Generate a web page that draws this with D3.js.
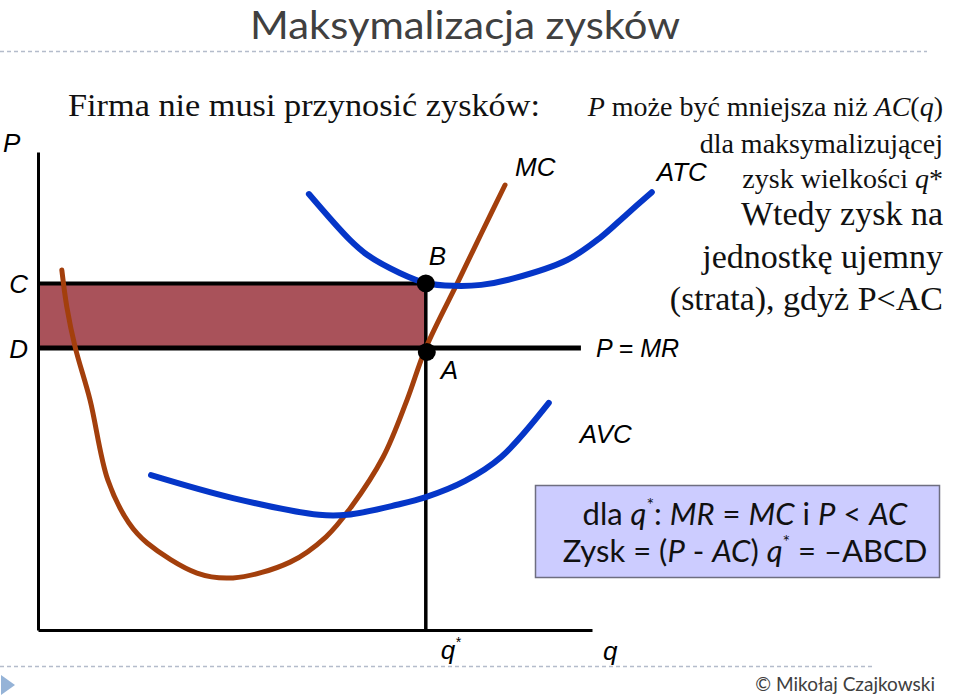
<!DOCTYPE html>
<html>
<head>
<meta charset="utf-8">
<script src="https://cdn.jsdelivr.net/npm/d3@7"></script>
<style>
  html, body { margin: 0; padding: 0; background: #fff; }
  svg { display: block; }
  .sans { font-family: "Liberation Sans", Arial, sans-serif; font-style: italic; }
  .serif { font-family: "Liberation Serif", "Times New Roman", serif; }
  .cal { font-family: Lato, "Open Sans", sans-serif; }
</style>
</head>
<body>
<svg id="chart" width="960" height="697"></svg>
<script>
// ---- data (abstract units: quantity q, cost/price c) ----
const qStar = 7.0;          // profit-maximising quantity
const price = 5.9;          // P = MR  (point D / A)
const avgCost = 7.25;       // ATC at q*  (point C / B)
const mrEnd = 9.8;          // end of the P = MR line

const atcCurve = [
  [4.89, 9.12], [5.63, 8.16], [5.94, 7.85], [6.53, 7.47], [7.0, 7.26],
  [7.5, 7.20], [8.0, 7.22], [8.6, 7.36], [9.55, 7.74], [10.14, 8.20], [10.63, 8.70], [11.08, 9.16]
];
const avcCurve = [
  [2.04, 3.24], [3.52, 2.76], [5.07, 2.41], [5.58, 2.41], [6.48, 2.62],
  [7.0, 2.78], [7.71, 3.12], [8.36, 3.62], [9.22, 4.75]
];
const mcCurve = [
  [0.43, 7.53], [0.52, 6.76], [0.67, 5.92], [0.94, 4.81], [1.26, 3.14],
  [1.64, 2.24], [1.97, 1.82], [2.87, 1.19], [3.52, 1.09], [4.55, 1.42],
  [5.20, 1.95], [5.65, 2.57], [6.23, 3.62], [6.66, 4.81], [7.0, 5.9],
  [7.6, 7.33], [8.0, 8.29], [8.43, 9.31]
];
const yTickValues = [price, avgCost];
const yTickLabels = ["D", "C"];

// ---- layout ----
const svg = d3.select("#chart");
const x = d3.scaleLinear().domain([0, 10]).range([38, 592]);
const y = d3.scaleLinear().domain([0, 10]).range([630, 152]);

// slide decorations
svg.append("line").attr("x1", 0).attr("x2", 927).attr("y1", 51.5).attr("y2", 51.5)
  .attr("stroke", "#b4bccb").attr("stroke-width", 1.3).attr("stroke-dasharray", "4,3");
svg.append("line").attr("x1", 0).attr("x2", 873).attr("y1", 666.5).attr("y2", 666.5)
  .attr("stroke", "#b4bccb").attr("stroke-width", 1.3).attr("stroke-dasharray", "4,3");
svg.append("polygon").attr("points", "1,675 15,685 1,695").attr("fill", "#95b3d7");

svg.append("text").attr("class", "cal").attr("x", 465).attr("y", 39)
  .attr("text-anchor", "middle").attr("font-size", 38).attr("fill", "#404040")
  .attr("textLength", 430).attr("lengthAdjust", "spacingAndGlyphs")
  .text("Maksymalizacja zysków");

svg.append("text").attr("class", "cal").attr("x", 935).attr("y", 691)
  .attr("text-anchor", "end").attr("font-size", 19).attr("fill", "#404040")
  .text("© Mikołaj Czajkowski");

// left heading
svg.append("text").attr("class", "serif").attr("x", 68).attr("y", 116)
  .attr("font-size", 31).attr("fill", "#111")
  .attr("textLength", 472).attr("lengthAdjust", "spacingAndGlyphs")
  .text("Firma nie musi przynosić zysków:");

// right text block
const rt = [
  { y: 116, fs: 28, parts: [["P", true], [" może być mniejsza niż ", false], ["AC", true], ["(", false], ["q", true], [")", false]] },
  { y: 153, fs: 28, parts: [["dla maksymalizującej", false]] },
  { y: 188, fs: 28, parts: [["zysk wielkości ", false], ["q", true], ["*", false]] },
  { y: 225, fs: 34, parts: [["Wtedy zysk na", false]] },
  { y: 268, fs: 34, parts: [["jednostkę ujemny", false]] },
  { y: 310, fs: 34, parts: [["(strata), gdyż P<AC", false]] }
];
rt.forEach(line => {
  const t = svg.append("text").attr("class", "serif").attr("x", 943).attr("y", line.y)
    .attr("text-anchor", "end").attr("font-size", line.fs).attr("fill", "#111");
  line.parts.forEach(p => t.append("tspan").attr("font-style", p[1] ? "italic" : "normal").text(p[0]));
});

// ---- chart ----
const g = svg.append("g");

// loss rectangle
g.append("rect")
  .attr("x", x(0)).attr("y", y(avgCost))
  .attr("width", x(qStar) - x(0)).attr("height", y(price) - y(avgCost))
  .attr("fill", "#a9525a");

// axes
const xAxis = d3.axisBottom(x).tickValues([]).tickSizeOuter(0);
const yAxis = d3.axisLeft(y).tickValues(yTickValues).tickSize(0).tickPadding(10)
  .tickFormat((d, i) => yTickLabels[i]).tickSizeOuter(0);
const gx = g.append("g").attr("transform", `translate(0,${y(0)})`).call(xAxis);
const gy = g.append("g").attr("transform", `translate(${x(0)},0)`).call(yAxis);
[gx, gy].forEach(a => a.select(".domain").attr("stroke", "#000").attr("stroke-width", 3));
gy.selectAll(".tick text").attr("class", "sans").attr("font-size", 26).attr("fill", "#000")
  .attr("dy", "0.36em");

// guide lines
g.append("line").attr("x1", x(0)).attr("x2", x(qStar)).attr("y1", y(avgCost)).attr("y2", y(avgCost))
  .attr("stroke", "#000").attr("stroke-width", 4);
g.append("line").attr("x1", x(qStar)).attr("x2", x(qStar)).attr("y1", y(avgCost)).attr("y2", y(0))
  .attr("stroke", "#000").attr("stroke-width", 3.5);
g.append("line").attr("x1", x(0)).attr("x2", x(mrEnd)).attr("y1", y(price)).attr("y2", y(price))
  .attr("stroke", "#000").attr("stroke-width", 5);

// curves
const line = d3.line().x(d => x(d[0])).y(d => y(d[1])).curve(d3.curveCatmullRom.alpha(0.5));
g.append("path").datum(mcCurve).attr("d", line).attr("fill", "none")
  .attr("stroke", "#a33f0c").attr("stroke-width", 5).attr("stroke-linecap", "round");
g.append("path").datum(atcCurve).attr("d", line).attr("fill", "none")
  .attr("stroke", "#0536c8").attr("stroke-width", 6).attr("stroke-linecap", "round");
g.append("path").datum(avcCurve).attr("d", line).attr("fill", "none")
  .attr("stroke", "#0536c8").attr("stroke-width", 6).attr("stroke-linecap", "round");

// points
g.append("circle").attr("cx", x(qStar)).attr("cy", y(avgCost)).attr("r", 9).attr("fill", "#000");
g.append("circle").attr("cx", x(qStar) + 1).attr("cy", y(price) + 4).attr("r", 9).attr("fill", "#000");

// labels
const lab = (txt, px, py, fs) => g.append("text").attr("class", "sans")
  .attr("x", px).attr("y", py).attr("font-size", fs || 26).attr("fill", "#000").text(txt);
const mcEnd = mcCurve[mcCurve.length - 1];
const atcEnd = atcCurve[atcCurve.length - 1];
const avcEnd = avcCurve[avcCurve.length - 1];
lab("MC", x(mcEnd[0]) + 10, y(mcEnd[1]) - 9);
lab("ATC", x(atcEnd[0]) + 5, y(atcEnd[1]) - 11);
lab("AVC", x(avcEnd[0]) + 31, y(avcEnd[1]) + 40);
lab("P = MR", x(mrEnd) + 15, y(price) + 9, 25);
lab("B", x(qStar) + 3, y(avgCost) - 18);
lab("A", x(qStar) + 15, y(price) + 31);
lab("P", 3, 152);

const qs = g.append("text").attr("class", "sans").attr("x", x(qStar) + 15).attr("y", y(0) + 29)
  .attr("font-size", 26).attr("fill", "#000");
qs.append("tspan").text("q");
qs.append("tspan").attr("font-size", 14).attr("dy", -12).text("*");
lab("q", x(10) + 11, y(0) + 30);

// formula box
svg.append("rect").attr("x", 535.5).attr("y", 485.5).attr("width", 404).attr("height", 92)
  .attr("fill", "#ccccff").attr("stroke", "#6e6e80").attr("stroke-width", 1.5);
const box = [
  { y: 525, parts: [["dla ", 0], ["q", 1], ["*", 2], [": ", 0], ["MR", 1], [" = ", 0], ["MC", 1], [" i ", 0], ["P", 1], [" < ", 0], ["AC", 1]] },
  { y: 562, parts: [["Zysk = (", 0], ["P", 1], [" - ", 0], ["AC", 1], [") ", 0], ["q", 1], ["*", 2], [" = –ABCD", 0]] }
];
box.forEach(line => {
  const t = svg.append("text").attr("class", "cal").attr("x", 745).attr("y", line.y)
    .attr("text-anchor", "middle").attr("font-size", 31).attr("fill", "#111");
  let sup = false;
  line.parts.forEach(p => {
    const ts = t.append("tspan").text(p[0]);
    if (p[1] === 1) ts.attr("font-style", "italic");
    if (p[1] === 2) { ts.attr("font-size", 18).attr("dy", -14); sup = true; }
    else if (sup) { ts.attr("dy", 14); sup = false; }
  });
});
</script>
</body>
</html>
